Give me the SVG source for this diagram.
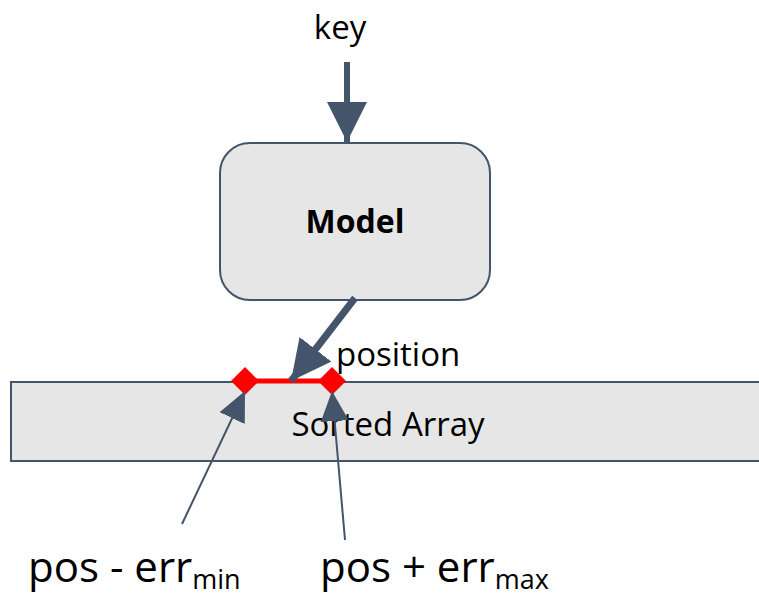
<svg xmlns="http://www.w3.org/2000/svg" width="759" height="598" viewBox="0 0 759 598">
<style>
.t{font-family:"Open Sans","Liberation Sans",sans-serif;fill:#000}
.box{fill:#E6E6E6;stroke:#44546A;stroke-width:2}
.thin{stroke:#44546A;stroke-width:2;fill:none}
</style>
<defs>
<marker id="ah" markerUnits="userSpaceOnUse" markerWidth="40" markerHeight="40" refX="32" refY="16" orient="auto" viewBox="0 0 32 32"><path d="M0,0 L32,16 L0,32 Z" fill="#44546A"/></marker>
<marker id="ahs" markerUnits="userSpaceOnUse" markerWidth="30" markerHeight="30" refX="28" refY="13" orient="auto" viewBox="0 0 28 26"><path d="M0,0 L28,13 L0,26 Z" fill="#44546A"/></marker>
</defs>
<g id="array"><rect class="box" x="11" y="382" width="760" height="79"/><text class="t" x="388" y="436" font-size="33" text-anchor="middle">Sorted Array</text></g>
<g id="model"><rect class="box" x="220" y="143" width="270" height="157" rx="30"/><text class="t" x="355" y="233" font-size="32" font-weight="bold" text-anchor="middle">Model</text></g>
<g id="key"><text class="t" x="340" y="39" font-size="33" text-anchor="middle">key</text></g>
<g id="position"><text class="t" x="336" y="366" font-size="33">position</text></g>
<g id="range"><line x1="245" y1="381" x2="332" y2="381" stroke="#FF0000" stroke-width="5"/><path d="M245,367 L259,381 L245,395 L231,381 Z" fill="#FF0000"/><path d="M332,367 L346,381 L332,395 L318,381 Z" fill="#FF0000"/></g>
<g id="lbl-min"><text class="t" x="28" y="582" font-size="42">pos - err<tspan font-size="27" dy="7">min</tspan></text></g>
<g id="lbl-max"><text class="t" x="320" y="582" font-size="42">pos + err<tspan font-size="27" dy="7">max</tspan></text></g>
<g id="connectors">
<line x1="347" y1="62" x2="347" y2="142" stroke="#44546A" stroke-width="6" marker-end="url(#ah)"/>
<line x1="355" y1="298" x2="291" y2="381" stroke="#44546A" stroke-width="7" marker-end="url(#ah)"/>
<line class="thin" x1="182" y1="524" x2="245" y2="391" marker-end="url(#ahs)"/>
<line class="thin" x1="345" y1="540" x2="332" y2="391" marker-end="url(#ahs)"/>
</g>
</svg>
